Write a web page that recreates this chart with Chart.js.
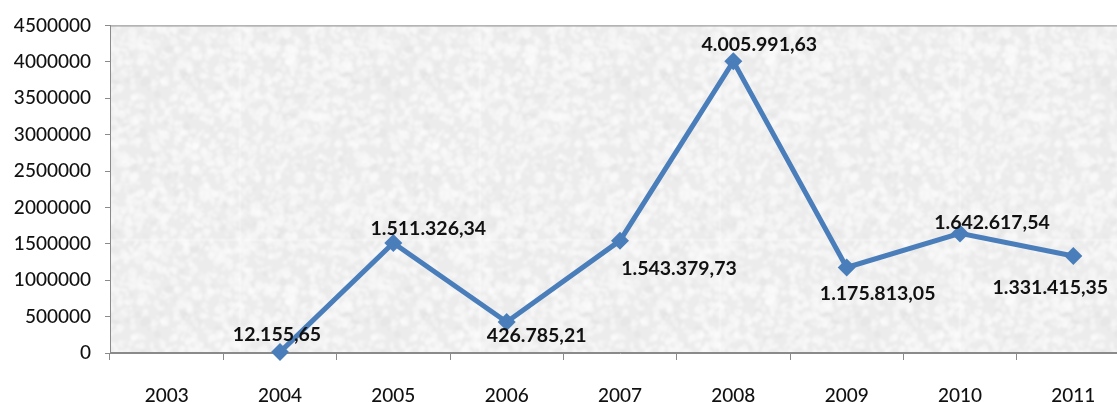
<!DOCTYPE html>
<html>
<head>
<meta charset="utf-8">
<script src="https://cdn.jsdelivr.net/npm/chart.js@4/dist/chart.umd.min.js"></script>
<style>
  html, body { margin: 0; padding: 0; background: #ffffff; overflow: hidden; }
  #wrap { position: relative; width: 1140px; height: 402px; }
</style>
</head>
<body>
<div id="wrap"><canvas id="chart" width="1140" height="402"></canvas></div>
<script>
// Yearly values (2003 has no value)
const years = ['2003', '2004', '2005', '2006', '2007', '2008', '2009', '2010', '2011'];
const values = [null, 12155.65, 1511326.34, 426785.21, 1543379.73, 4005991.63, 1175813.05, 1642617.54, 1331415.35];

// Value axis range
const yMin = 0;
const yMax = 4500000;
const yStep = 500000;

// Where each value label sits relative to its point (px)
const labelOffsetX = [0, -3, 35, 30, 59, 26, 31, 32, -23];
const labelOffsetY = [0, -17, -14, 14, 28, -17, 26, -11, 32];

const lineColor = '#4a7ebb';
const axisColor = '#8a8a8a';
const textColor = '#111111';

// Brazilian number format: 1.511.326,34
function formatValue(v) {
  const parts = v.toFixed(2).split('.');
  return parts[0].replace(/\B(?=(\d{3})+(?!\d))/g, '.') + ',' + parts[1];
}

// Soft stone-like grey texture for the plot area, from a seeded generator
function makeTexture() {
  const size = 240;
  const c = document.createElement('canvas');
  c.width = size; c.height = size;
  const g = c.getContext('2d');
  g.fillStyle = '#ececec';
  g.fillRect(0, 0, size, size);
  let seed = 987654;
  const rnd = () => { seed = (seed * 1103515245 + 12345) % 2147483648; return seed / 2147483648; };
  for (let i = 0; i < 2200; i++) {
    const x = rnd() * size, y = rnd() * size;
    const r = 1.2 + rnd() * 3.2;
    const light = rnd() < 0.8;
    const shade = light ? 249 + Math.floor(rnd() * 6) : 214 + Math.floor(rnd() * 16);
    const alpha = light ? 0.5 : 0.22;
    const sx = 0.5 + rnd() * 0.9, rot = rnd() * Math.PI;
    g.fillStyle = `rgba(${shade},${shade},${shade},${alpha})`;
    for (const ox of [-size, 0, size]) {
      for (const oy of [-size, 0, size]) {
        g.beginPath();
        g.ellipse(x + ox, y + oy, r * sx, r, rot, 0, Math.PI * 2);
        g.fill();
      }
    }
  }
  const out = document.createElement('canvas');
  out.width = size; out.height = size;
  const o = out.getContext('2d');
  o.filter = 'blur(1.1px)';
  for (const ox of [-size, 0, size]) for (const oy of [-size, 0, size]) o.drawImage(c, ox, oy);
  return out;
}

const plotBackground = {
  id: 'plotBackground',
  beforeDraw(chart) {
    const { ctx, chartArea: a } = chart;
    if (!this._pattern) this._pattern = ctx.createPattern(makeTexture(), 'repeat');
    ctx.save();
    ctx.fillStyle = this._pattern;
    ctx.fillRect(a.left, a.top, a.right - a.left, a.bottom - a.top);
    ctx.strokeStyle = axisColor;
    ctx.lineWidth = 1;
    ctx.strokeRect(a.left + 0.5, a.top + 0.5, a.right - a.left - 1, a.bottom - a.top - 1);
    ctx.restore();
  }
};

const valueLabels = {
  id: 'valueLabels',
  afterDatasetsDraw(chart) {
    const { ctx } = chart;
    const meta = chart.getDatasetMeta(0);
    ctx.save();
    ctx.font = 'bold 19.5px Lato, "Open Sans", sans-serif';
    ctx.fillStyle = textColor;
    ctx.textAlign = 'center';
    ctx.textBaseline = 'middle';
    meta.data.forEach((pt, i) => {
      const v = values[i];
      if (v === null || v === undefined) return;
      ctx.fillText(formatValue(v), pt.x + labelOffsetX[i], pt.y + labelOffsetY[i]);
    });
    ctx.restore();
  }
};

new Chart(document.getElementById('chart'), {
  type: 'line',
  data: {
    labels: years,
    datasets: [{
      data: values,
      borderColor: lineColor,
      backgroundColor: lineColor,
      borderWidth: 5,
      tension: 0,
      clip: false,
      pointStyle: 'rectRot',
      pointRadius: 9,
      pointHoverRadius: 9,
      pointBorderWidth: 0,
      pointBackgroundColor: lineColor,
      spanGaps: false
    }]
  },
  options: {
    responsive: false,
    animation: false,
    events: [],
    layout: { padding: { top: 25, right: 10, bottom: 0, left: 0 } },
    plugins: {
      legend: { display: false },
      tooltip: { enabled: false }
    },
    scales: {
      x: {
        offset: true,
        grid: {
          offset: true,
          drawOnChartArea: false,
          drawTicks: true,
          tickLength: 7,
          color: axisColor
        },
        border: { display: true, color: axisColor },
        ticks: {
          color: textColor,
          padding: 24,
          maxRotation: 0,
          font: { family: 'Lato, "Open Sans", sans-serif', size: 19, weight: '500' }
        },
        afterFit(scale) { scale.height = 49; }
      },
      y: {
        min: yMin,
        max: yMax,
        grid: {
          drawOnChartArea: false,
          drawTicks: true,
          tickLength: 5,
          color: axisColor
        },
        border: { display: true, color: axisColor },
        ticks: {
          stepSize: yStep,
          color: textColor,
          padding: 14,
          callback: (v) => String(v),
          font: { family: 'Lato, "Open Sans", sans-serif', size: 19, weight: '500' }
        },
        afterFit(scale) { scale.width = 110; }
      }
    }
  },
  plugins: [plotBackground, valueLabels]
});
</script>
</body>
</html>
